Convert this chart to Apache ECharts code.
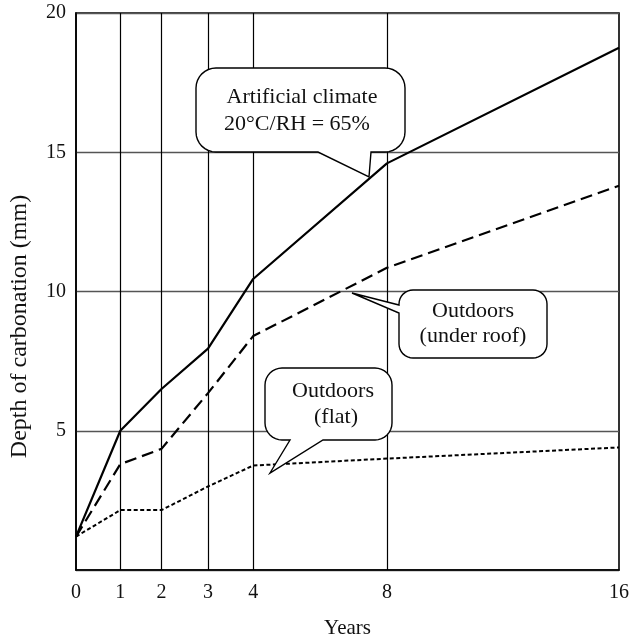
<!DOCTYPE html>
<html>
<head>
<meta charset="utf-8">
<script src="https://cdn.jsdelivr.net/npm/echarts@6/dist/echarts.min.js"></script>
<style>
html, body { margin: 0; padding: 0; background: #fff; }
#chart { width: 632px; height: 644px; }
</style>
</head>
<body>
<div id="chart"></div>
<script>
// years measured, depth of carbonation (mm)
var years = [0, 1, 2, 3, 4, 8, 16];
var artificial = [1.2, 5.0, 6.5, 7.95, 10.45, 14.6, 18.75];
var underRoof = [1.2, 3.8, 4.35, 6.35, 8.4, 10.85, 13.8];
var flat = [1.2, 2.15, 2.15, 3.0, 3.75, 4.0, 4.4];
var yTicks = [5, 10, 15, 20];

// the x axis is stretched by hand in the figure: slot where each year sits
var yearSlot = [0, 1, 1.93, 2.98, 4, 7.02, 12.26];

var serif = '"Liberation Serif", "DejaVu Serif", serif';

function pts(vals) {
	return years.map(function(y, i) { return [yearSlot[i], vals[i]]; });
}
function yearOf(v) {
	for (var i = 0; i < yearSlot.length; i++) {
		if (Math.abs(yearSlot[i] - v) < 1e-6) return years[i];
	}
	return '';
}

// speech bubble: rounded box with a pointed tail (pixel layout)
function arc(out, cx, cy, r, a0, a1) {
	for (var k = 0; k <= 8; k++) {
		var a = (a0 + (a1 - a0) * k / 8) * Math.PI / 180;
		out.push([cx + r * Math.cos(a), cy + r * Math.sin(a)]);
	}
}
function bubble(x0, y0, x1, y1, r, bottomTail, leftTail) {
	var p = [];
	arc(p, x0 + r, y0 + r, r, 180, 270);
	arc(p, x1 - r, y0 + r, r, 270, 360);
	arc(p, x1 - r, y1 - r, r, 0, 90);
	if (bottomTail) p = p.concat(bottomTail);
	arc(p, x0 + r, y1 - r, r, 90, 180);
	if (leftTail) p = p.concat(leftTail);
	return {
		type: 'polygon',
		z: 100,
		shape: { points: p },
		style: { fill: '#fff', stroke: '#000', lineWidth: 1.4 }
	};
}
function label(text, x, y) {
	return {
		type: 'text',
		z: 101,
		style: {
			text: text, x: x, y: y,
			align: 'center', verticalAlign: 'middle',
			fontFamily: serif, fontSize: 22, fill: '#111'
		}
	};
}

var myChart = echarts.init(document.getElementById('chart'));
var option = {
	animation: false,
	grid: {
		left: 74, top: 13, right: 9, bottom: 68,
		show: true, borderColor: '#000', borderWidth: 1.6
	},
	xAxis: {
		type: 'value',
		min: 0,
		max: yearSlot[yearSlot.length - 1],
		name: 'Years',
		nameLocation: 'middle',
		nameGap: 48,
		nameTextStyle: { fontFamily: serif, fontSize: 21, color: '#111' },
		axisLine: { show: true, lineStyle: { color: '#000', width: 1.6 } },
		axisTick: { show: false },
		splitLine: { show: false },
		axisLabel: {
			customValues: yearSlot,
			formatter: yearOf,
			margin: 13,
			fontFamily: serif, fontSize: 20, color: '#111'
		}
	},
	yAxis: {
		type: 'value',
		min: 0,
		max: 20,
		interval: 5,
		name: 'Depth of carbonation (mm)',
		nameLocation: 'middle',
		nameGap: 44,
		nameTextStyle: {
			fontFamily: serif, fontSize: 24, color: '#111',
			padding: [0, 70, 0, 0]
		},
		axisLine: { show: true, lineStyle: { color: '#000', width: 1.6 } },
		axisTick: { show: false },
		splitLine: { show: true, lineStyle: { color: '#555', width: 1.4 } },
		axisLabel: {
			margin: 10,
			fontFamily: serif, fontSize: 20, color: '#111',
			formatter: function(v) { return yTicks.indexOf(v) >= 0 ? v : ''; }
		}
	},
	series: [
		{
			name: 'Artificial climate',
			type: 'line',
			data: pts(artificial),
			symbol: 'none',
			z: 5,
			lineStyle: { color: '#000', width: 2.2 },
			markLine: {
				silent: true,
				symbol: 'none',
				label: { show: false },
				lineStyle: { color: '#000', width: 1.2, type: 'solid' },
				data: yearSlot.slice(1, -1).map(function(s) { return { xAxis: s }; })
			}
		},
		{
			name: 'Outdoors (under roof)',
			type: 'line',
			data: pts(underRoof),
			symbol: 'none',
			z: 5,
			lineStyle: { color: '#000', width: 2.2, type: [12, 6] }
		},
		{
			name: 'Outdoors (flat)',
			type: 'line',
			data: pts(flat),
			symbol: 'none',
			z: 5,
			lineStyle: { color: '#000', width: 2, type: [4, 2.5] }
		}
	],
	graphic: [
		bubble(196, 68, 405, 152, 20, [[371, 152], [369, 177], [318, 152]], null),
		label('Artificial climate', 302, 97),
		label('20°C/RH = 65%', 297, 124),
		bubble(399, 290, 547, 358, 14, null, [[399, 313], [352, 293], [399, 305]]),
		label('Outdoors', 473, 311),
		label('(under roof)', 473, 336),
		bubble(265, 368, 392, 440, 17, [[323, 440], [270, 473], [290, 440]], null),
		label('Outdoors', 333, 391),
		label('(flat)', 336, 417)
	]
};
myChart.setOption(option);
</script>
</body>
</html>
